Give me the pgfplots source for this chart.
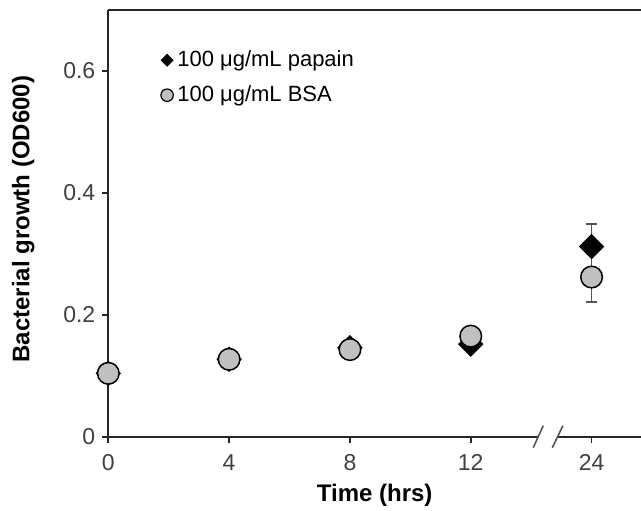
\documentclass[border=0pt]{standalone}
\usepackage{pgfplots}
\pgfplotsset{compat=1.18}
\usepackage{fontspec}
\setmainfont{Liberation Sans}
\definecolor{axisgray}{HTML}{262626}
\definecolor{markgray}{HTML}{C0C0C0}
\definecolor{tickgray}{HTML}{404040}
\definecolor{errgray}{HTML}{555555}

\begin{document}
\begin{tikzpicture}
\begin{axis}[
  scale only axis,
  width=266.4pt, height=213.3pt,
  xmin=0, xmax=17.64,
  ymin=0, ymax=0.7,
  clip=false,
  axis lines*=left,
  x axis line style={draw=none},
  y axis line style={axisgray, line width=1pt},
  xtick={0,4,8,12,16},
  xticklabels={0,4,8,12,24},
  ytick={0,0.2,0.4,0.6},
  yticklabels={0,0.2,0.4,0.6},
  tick align=outside,
  major tick length=3pt,
  tick style={axisgray, line width=0.8pt},
  ticklabel style={font=\fontsize{11.5}{13}\selectfont, text=tickgray},
  xticklabel style={yshift=-2.5pt},
  /pgf/number format/assume math mode=true,
  every axis x label/.style={at={([yshift=-29.5pt]rel axis cs:0.5,0)}, anchor=center},
  every axis y label/.style={at={([xshift=-42.5pt]rel axis cs:0,0.51)}, rotate=90, anchor=center},
  label style={font=\fontsize{12}{14}\selectfont\bfseries},
  xlabel={Time (hrs)},
  ylabel={Bacterial growth (OD600)},
  legend style={at={(rel axis cs:0.098,0.915)}, anchor=north west, draw=none, fill=none,
    font=\fontsize{11}{13}\selectfont, row sep=4pt, inner sep=0pt},
  legend cell align=left,
]

% error bars at 24 h (drawn first, under the marks)
\addplot[forget plot, only marks, mark=none,
  error bars/.cd, y dir=both, y explicit,
  error bar style={errgray, line width=0.6pt},
  error mark options={rotate=90, mark size=2.7pt, errgray, line width=0.6pt}]
coordinates {
(16,0.312) += (0,0.037) -= (0,0.037)
(16,0.262) += (0,0) -= (0,0.041)
};

\addplot[only marks, mark=square*, mark size=4.24pt,
  mark options={rotate=45, fill=black, draw=black, line width=0.5pt},
  legend image code/.code={\draw[only marks, mark=square*, mark size=2.1pt,
    mark options={rotate=45, fill=black, draw=black}] plot coordinates {(0.15cm,0cm)};}]
coordinates {
(0,0.104)(4,0.127)(8,0.146)(12,0.152)(16,0.312)
};
\addlegendentry{100 μg/mL papain}

\addplot[only marks, mark=*, mark size=5.4pt,
  mark options={fill=markgray, draw=black, line width=0.75pt},
  legend image code/.code={\draw[only marks, mark=*, mark size=3.1pt,
    mark options={fill=markgray, draw=black, line width=0.6pt}] plot coordinates {(0.15cm,0cm)};}]
coordinates {
(0,0.104)(4,0.127)(8,0.143)(12,0.165)(16,0.262)
};
\addlegendentry{100 μg/mL BSA}

% top border and broken x axis
\draw[axisgray, line width=1pt] (rel axis cs:0,1) -- (rel axis cs:1,1);
\draw[axisgray, line width=1pt] (axis cs:0,0) -- (axis cs:14.23,0);
\draw[axisgray, line width=1pt] (axis cs:14.86,0) -- (rel axis cs:1,0);
\draw[errgray, line width=0.8pt] ([yshift=-5.5pt]axis cs:14.07,0) -- ([yshift=5.5pt]axis cs:14.40,0);
\draw[errgray, line width=0.8pt] ([yshift=-5.5pt]axis cs:14.70,0) -- ([yshift=5.5pt]axis cs:15.05,0);

\coordinate (o) at (rel axis cs:0,0);
\end{axis}
\pgfresetboundingbox
\path (o) ++(-54.15pt,-36.65pt) rectangle ++(320.5pt,255pt);
\end{tikzpicture}
\end{document}
